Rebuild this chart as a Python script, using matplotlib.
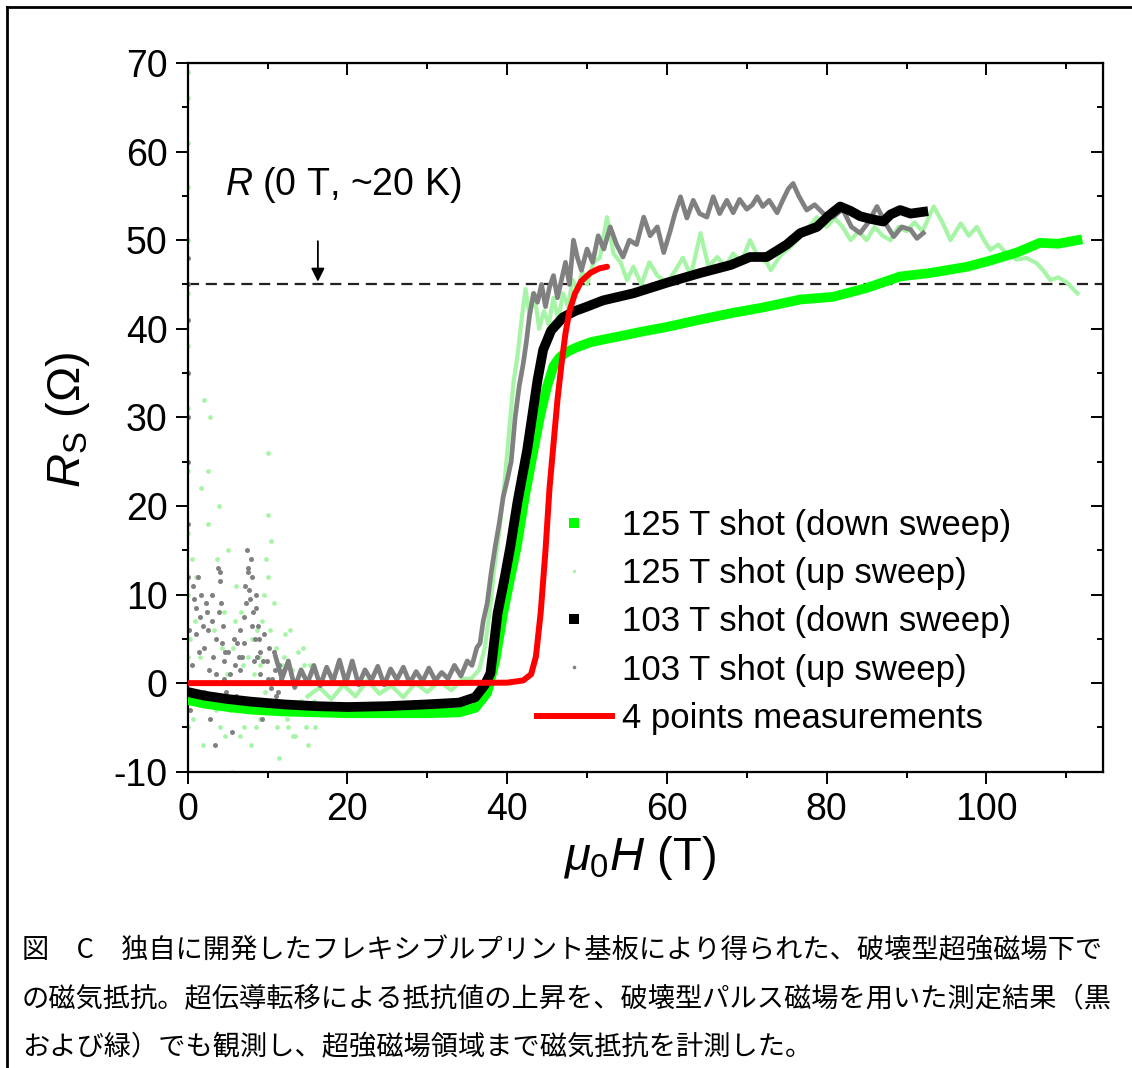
import numpy as np
import matplotlib
matplotlib.use('Agg')
import matplotlib.pyplot as plt
from matplotlib.lines import Line2D
from matplotlib.ticker import MultipleLocator

plt.rcParams['font.family'] = ['Liberation Sans', 'DejaVu Sans']
plt.rcParams['mathtext.fontset'] = 'custom'
plt.rcParams['mathtext.rm'] = 'Liberation Sans'
plt.rcParams['mathtext.it'] = 'Liberation Sans:italic'
plt.rcParams['mathtext.bf'] = 'Liberation Sans:bold'
plt.rcParams['axes.unicode_minus'] = False

# ---- data (field in T, resistance in Ohm) ----
# 125 T shot, down sweep
g_down_x = [0, 2, 5, 8, 12, 16, 20, 25, 30, 34,
            36, 37.5, 38.5, 39.5, 40.3, 41.2, 42.2, 43.3, 44.2, 45.0,
            45.8, 46.6, 47.5, 48.7, 50.5, 53.8, 57, 60, 64, 68.3,
            72, 76.7, 80.8, 85, 89.2, 93, 97.6, 100.5, 103.8, 106.7,
            109, 111.4]
g_down_y = [-1.9, -2.3, -2.7, -3.0, -3.2, -3.3, -3.4, -3.4, -3.4, -3.3,
            -2.8, -1.1, 2.5, 7.9, 11.5, 15.4, 21, 26.3, 30.5, 33.5,
            35.8, 36.8, 37.4, 37.9, 38.5, 39.1, 39.7, 40.2, 41.0, 41.8,
            42.4, 43.3, 43.6, 44.6, 45.9, 46.3, 47.0, 47.7, 48.6, 49.7,
            49.6, 50.0]

# 103 T shot, down sweep
b_down_x = [0, 2, 5, 8, 12, 16, 20, 25, 30, 34,
            36, 37.2, 37.9, 38.3, 38.8, 39.6, 40.4, 41.3, 42.5, 43.8,
            44.5, 45.5, 47.0, 48.5, 50, 52, 55.8, 60, 64.2, 68,
            70.4, 72.5, 75, 76.7, 78.8, 80.3, 81.7, 83, 84.2, 85.5,
            87.1, 88, 89.2, 90.5, 92.1]
b_down_y = [-1.0, -1.4, -1.8, -2.1, -2.4, -2.6, -2.7, -2.6, -2.4, -2.2,
            -1.6, -0.2, 1.1, 4.1, 7.9, 11.5, 15.4, 20.5, 26.3, 34.2,
            37.6, 39.8, 41.3, 42.0, 42.5, 43.2, 44.0, 45.2, 46.3, 47.2,
            48.1, 48.1, 49.5, 50.8, 51.5, 52.8, 53.8, 53.3, 52.7, 52.4,
            52.1, 52.9, 53.4, 53.0, 53.2]

# 103 T shot, up sweep (continuous part)
k_up_x = [11.0, 11.8, 12.6, 13.4, 14.2, 15.0, 15.8, 16.6, 17.4, 18.2,
          19.0, 19.8, 20.6, 21.4, 22.2, 23.0, 23.8, 24.6, 25.4, 26.2,
          27.0, 27.8, 28.6, 29.4, 30.2, 31.0, 31.8, 32.6, 33.4, 34.2,
          35.0, 35.6, 36.2, 36.6, 37.0, 37.5, 38.0, 38.5, 39.0, 39.5,
          40.0, 40.5, 41.0, 41.5, 42.0, 42.4, 42.8, 43.3, 43.8, 44.3,
          44.8, 45.3, 45.8, 46.3, 46.8, 47.3, 47.8, 48.3, 48.8, 49.3,
          50.0, 50.7, 51.4, 52.1, 52.9, 53.7, 54.5, 55.3, 56.2, 57.1,
          57.9, 58.8, 59.6, 60.4, 61.0, 61.7, 62.5, 63.3, 64.1, 65.0,
          65.8, 66.6, 67.5, 68.3, 69.1, 70.0, 70.7, 71.3, 72.0, 72.8,
          73.8, 74.5, 75.2, 75.8, 76.5, 77.5, 78.5, 79.6, 80.8, 82.0,
          83.1, 84.2, 85.2, 86.3, 87.3, 88.4, 89.4, 90.5, 91.3, 92.1]
k_up_y = [3.0, 0.5, 2.5, -0.5, 1.5, 0.0, 2.0, -0.3, 1.8, 0.2,
          2.6, 0.0, 2.5, -0.2, 1.5, 0.3, 1.9, -0.2, 1.6, 0.4,
          1.8, 0.0, 1.3, 0.2, 1.7, 0.3, 1.2, 0.5, 2.0, 0.8,
          2.5, 2.0, 4.0, 4.5, 7.0, 9.0, 12.5, 15.4, 18.0, 21.0,
          22.9, 25.0, 30.0, 33.5, 36.0, 38.5, 41.5, 44.0, 43.0, 45.0,
          42.5, 44.7, 46.0, 43.5, 45.5, 47.5, 45.0, 50.0, 48.0, 46.6,
          49.0, 47.5, 50.5, 49.0, 51.5, 49.5, 48.1, 50.0, 49.5, 52.6,
          50.5, 51.5, 48.6, 51.0, 53.0, 54.9, 52.5, 54.5, 53.0, 52.6,
          54.9, 53.0, 54.5, 53.1, 54.6, 53.5, 54.0, 54.9, 53.8, 54.5,
          53.1, 54.5, 55.8, 56.4, 55.0, 53.4, 54.0, 53.0, 52.6, 53.5,
          51.5, 50.8, 52.0, 53.8, 52.0, 50.4, 51.5, 51.2, 50.2, 50.8]

# 103 T shot, up sweep (noisy low-field points)
k_dot_x = [0.1, 0.1, 0.1, 0.1, 0.1, 0.1, 0.1, 0.1, 0.2, 0.3,
           0.8, 1.0, 1.3, 1.5, 1.7, 2.0, 2.2, 2.4, 2.6, 2.8,
           3.0, 3.2, 3.4, 3.6, 3.8, 4.0, 4.2, 4.4, 4.6, 4.8,
           5.0, 5.3, 5.6, 5.9, 6.2, 6.5, 6.8, 7.0, 7.2, 7.4,
           7.6, 7.8, 8.0, 8.2, 8.4, 8.6, 8.8, 9.0, 9.3, 9.6,
           9.9, 10.2, 10.5, 10.8, 11.1, 11.4, 11.7, 12.0, 2.0, 5.5,
           0.5, 0.7, 1.1, 1.4, 1.9, 2.3, 2.7, 3.1, 3.3, 3.5,
           3.9, 4.1, 4.3, 4.5, 4.7, 5.2, 5.8, 6.0, 6.4, 6.6,
           6.9, 7.1, 7.3, 7.5, 7.7, 7.9, 8.1, 8.3, 8.5, 8.7,
           8.9, 9.1, 9.4, 9.7, 10.0, 10.4, 10.9, 11.3]
k_dot_y = [48, 45, 41, 35, 30, 25, 18, 12, 6, -3,
           9.5, 5.5, 12.0, 7.5, 10.0, 4.0, -2.5, 8.0, 6.0, -4.0,
           10.0, 3.0, -7.0, 1.0, 13.0, 11.5, 9.0, 6.5, 2.5, -1.0,
           3.5, 1.0, -5.5, 2.0, 4.5, 1.5, 3.0, 7.5, 11.0, 15.0,
           13.0, 9.5, 12.0, 8.0, 5.0, 10.0, 6.5, 3.5, -4.0, 5.5,
           2.5, 4.0, 0.5, 3.5, -1.5, 2.0, 0.5, 1.5, -1.0, 0.0,
           2.0, 11.0, 8.5, 3.5, 6.5, 9.0, 1.5, 7.0, -2.0, 5.0,
           8.0, 12.5, 4.5, 0.5, 3.5, -2.0, 5.0, -1.5, 3.0, 6.0,
           0.0, 4.5, 9.0, 12.5, 10.5, 14.0, 6.5, 2.5, 8.5, 3.0,
           5.0, 1.0, 2.5, -2.5, 0.5, -0.5, 1.5, -1.0]

# 125 T shot, up sweep (continuous part)
l_up_x = [15.0, 16.5, 18.0, 19.5, 21.0, 22.5, 24.0, 25.5, 27.0, 28.5,
          30.0, 31.5, 33.0, 34.5, 35.5, 36.5, 37.2, 37.8, 38.4, 39.0,
          39.6, 40.2, 40.8, 41.3, 41.8, 42.3, 42.8, 43.4, 44.0, 44.6,
          45.2, 45.8, 46.4, 47.0, 47.6, 48.2, 48.8, 49.4, 50.0, 50.8,
          51.6, 52.5, 53.3, 54.2, 55.0, 55.8, 56.8, 57.8, 58.8, 60.0,
          61.0, 62.0, 63.0, 64.2, 65.2, 66.3, 67.3, 68.3, 69.3, 70.4,
          71.5, 72.5, 73.0, 74.0, 74.6, 75.8, 76.8, 77.8, 78.8, 80.0,
          81.0, 82.0, 83.0, 84.0, 85.0, 86.0, 87.0, 88.0, 89.0, 90.0,
          91.0, 92.0, 93.4, 94.5, 95.5, 96.8, 97.8, 98.8, 99.7, 100.5,
          101.5, 102.5, 103.8, 105.0, 106.3, 107.2, 108.0, 109.0, 110.1, 111.4]
l_up_y = [-1.5, -0.5, -1.8, -0.2, -1.5, 0.3, -1.2, -0.3, -1.6, 0.0,
          -1.0, 0.2, -0.8, 0.5, 0.5, 1.5, 4.0, 8.0, 13.0, 17.0,
          22.0, 28.0, 34.0, 37.0, 41.0, 44.5, 41.5, 44.0, 40.0, 42.0,
          40.5, 43.5, 41.0, 44.0, 42.5, 45.5, 44.5, 46.5, 45.0, 47.5,
          48.0, 52.6, 48.5, 47.5, 45.5, 47.0, 45.0, 47.5, 46.0, 45.2,
          46.5, 48.0, 46.0, 50.8, 47.0, 48.1, 47.0, 48.5, 47.5, 50.0,
          48.0, 47.5, 46.6, 48.0, 48.6, 49.5, 50.5, 51.5, 52.6, 51.5,
          52.5, 51.5, 50.0, 51.0, 50.0, 51.5, 50.5, 50.0, 51.5, 51.0,
          52.0, 51.0, 53.8, 52.0, 50.0, 51.9, 50.5, 51.5, 50.0, 48.9,
          49.5, 48.5, 47.8, 48.0, 47.4, 46.5, 45.5, 45.8, 45.2, 44.0]

# 125 T shot, up sweep (noisy low-field points)
l_dot_x = [0.1, 0.1, 0.1, 0.1, 0.1, 0.1, 0.1, 0.1, 0.1, 0.1,
           0.1, 0.1, 0.1, 0.1, 0.5, 0.9, 1.3, 1.7, 2.1, 2.5,
           2.8, 3.1, 3.5, 3.9, 4.3, 4.7, 5.1, 5.5, 5.9, 6.3,
           6.7, 7.1, 7.5, 7.9, 8.3, 8.7, 9.1, 9.5, 9.8, 10.1,
           10.1, 10.1, 10.3, 10.6, 11.0, 11.4, 11.8, 12.2, 12.6, 13.0,
           13.4, 13.8, 14.2, 14.6, 15.0, 15.5, 16.0, 16.5, 17.0, 9.0,
           0.3, 0.7, 1.1, 1.5, 1.9, 2.3, 2.6, 3.3, 3.7, 4.1,
           4.5, 4.9, 5.3, 5.7, 6.1, 6.5, 6.9, 7.3, 7.7, 8.1,
           8.5, 8.9, 9.3, 9.7, 10.4, 10.8, 11.2, 11.6, 12.0, 12.4,
           12.8, 13.2, 13.6, 14.0, 14.4, 14.8, 15.3, 15.8]
l_dot_y = [69, 66, 61, 56, 50, 44, 38, 31, 24, 17,
           10, 3, -5, -10, 14, 7, -2, 22, 32, 18,
           30, 10, -3, 20, 4, -6, 15, -10, 7, -2,
           8, -5, 3, -7, 1, 6, -4, 10, 14, 26,
           19, 12, 6, -3, 4, -8.5, 2, 5.5, -5, 1.5,
           -6, 3.5, -2, 2, -7, 1, -5, 0.5, -3, 2,
           5, -4, 12, 3, -7, 9, 24, 6, 14, -5,
           8, 1, -3, 4, 11, -6, 2, 9, -2, 5,
           -5, 3, 7, -1, 16, 9, -5, -2, 3, -4,
           6, -6, 0, -3, 4, -5, 2, -2]

# 4 points measurement
r_x = [0, 10, 20, 30, 40, 42, 43, 43.6, 44.2, 44.8,
       45.3, 45.8, 46.3, 46.8, 47.3, 47.8, 48.5, 49.3, 50.4, 51.5, 52.5]
r_y = [0, 0, 0, 0, 0.05, 0.3, 1.0, 3.0, 8.0, 15.0,
       22.0, 27.0, 32.0, 36.0, 39.5, 42.0, 44.0, 45.4, 46.3, 46.8, 47.0]

r_normal = 45  # R(0 T, ~20 K)

labels = ['125 T shot (down sweep)', '125 T shot (up sweep)',
          '103 T shot (down sweep)', '103 T shot (up sweep)',
          '4 points measurements']

caption = ['図\u3000C\u3000独自に開発したフレキシブルプリント基板により得られた、破壊型超強磁場下で',
           'の磁気抵抗。超伝導転移による抵抗値の上昇を、破壊型パルス磁場を用いた測定結果（黒',
           'および緑）でも観測し、超強磁場領域まで磁気抵抗を計測した。']

GREEN = '#00ff00'
LGREEN = '#a6f5a6'
GREY = '#808080'
RED = '#ff0000'

W, H = 1132, 1068
fig = plt.figure(figsize=(W / 100, H / 100), dpi=100)
ax = fig.add_axes([187.7 / W, 1 - 771.7 / H, (1103 - 187.7) / W, (771.7 - 63) / H])

# up sweeps (underneath)
ax.plot(l_dot_x, l_dot_y, 'o', color=LGREEN, ms=3.4, mew=0, zorder=1)
ax.plot(l_up_x, l_up_y, '-', color=LGREEN, lw=3, zorder=1)
ax.plot(k_dot_x, k_dot_y, 'o', color=GREY, ms=3.6, mew=0, zorder=2)
ax.plot(k_up_x, k_up_y, '-', color=GREY, lw=3.4, zorder=2)
# down sweeps
ax.plot(g_down_x, g_down_y, '-', color=GREEN, lw=7, zorder=3)
ax.plot(b_down_x, b_down_y, '-', color='black', lw=7, zorder=4)
# 4 points
ax.plot(r_x, r_y, '-', color=RED, lw=4.3, zorder=5, solid_capstyle='round')

ax.axhline(r_normal, color='#222222', lw=1.6, ls=(0, (5, 3)), zorder=0.5)
ax.annotate('', xy=(16.3, r_normal), xytext=(16.3, 50.2),
            arrowprops=dict(arrowstyle='-|>', color='black', lw=1.3, mutation_scale=20))
ax.text(4.7, 56.2, r'$R$ (0 T, ~20 K)', fontsize=27, ha='left', va='center')

ax.set_xlim(0, 114.6)
ax.set_ylim(-10, 70)
ax.set_xticks([0, 20, 40, 60, 80, 100])
ax.set_yticks(np.arange(-10, 71, 10))
ax.xaxis.set_minor_locator(MultipleLocator(10))
ax.yaxis.set_minor_locator(MultipleLocator(5))
ax.tick_params(which='major', direction='out', length=8.5, width=1.4, labelsize=27, pad=6)
ax.tick_params(which='minor', direction='out', length=4.3, width=1.4)
for s in ax.spines.values():
    s.set_linewidth(1.6)

top = ax.secondary_xaxis('top')
top.set_xticks([0, 20, 40, 60, 80, 100])
top.xaxis.set_minor_locator(MultipleLocator(10))
top.tick_params(which='both', direction='in', width=1.4, labeltop=False)
top.tick_params(which='major', length=8.5)
top.tick_params(which='minor', length=4.3)
right = ax.secondary_yaxis('right')
right.set_yticks(np.arange(-10, 71, 10))
right.yaxis.set_minor_locator(MultipleLocator(5))
right.tick_params(which='both', direction='in', width=1.4, labelright=False)
right.tick_params(which='major', length=8.5)
right.tick_params(which='minor', length=4.3)

fig.text(640 / W, 1 - 858 / H, r'$\mu_{\mathrm{0}}H$ (T)', fontsize=34, ha='center', va='center')
fig.text(68 / W, 1 - 420 / H, r'$R_{\mathrm{S}}$ (Ω)', fontsize=34, ha='center', va='center',
         rotation=90)

handles = [Line2D([], [], ls='none', marker='s', color=GREEN, ms=6.5, mew=0),
           Line2D([], [], ls='none', marker='o', color=LGREEN, ms=2.4, mew=0),
           Line2D([], [], ls='none', marker='s', color='black', ms=6.5, mew=0),
           Line2D([], [], ls='none', marker='o', color=GREY, ms=2.6, mew=0),
           Line2D([], [], color=RED, lw=4.3)]
ax.legend(handles, labels, loc='upper left', bbox_to_anchor=(0.3816, 0.371),
          frameon=False, fontsize=25, handlelength=2.15, handletextpad=0.3,
          labelspacing=0.44, borderpad=0, borderaxespad=0)

# caption
for i, line in enumerate(caption):
    fig.text(22 / W, 1 - (951 + 48.5 * i) / H, line, fontsize=19.6, ha='left', va='center',
             family=['Noto Sans CJK JP', 'DejaVu Sans'])

# outer frame (left and top edges visible)
fig.add_artist(Line2D([6.5 / W, 6.5 / W], [0, 1 - 6.5 / H], transform=fig.transFigure,
                      color='black', lw=2))
fig.add_artist(Line2D([6.5 / W, 1], [1 - 6.5 / H, 1 - 6.5 / H], transform=fig.transFigure,
                      color='black', lw=2))

fig.savefig('out.png', dpi=100)
